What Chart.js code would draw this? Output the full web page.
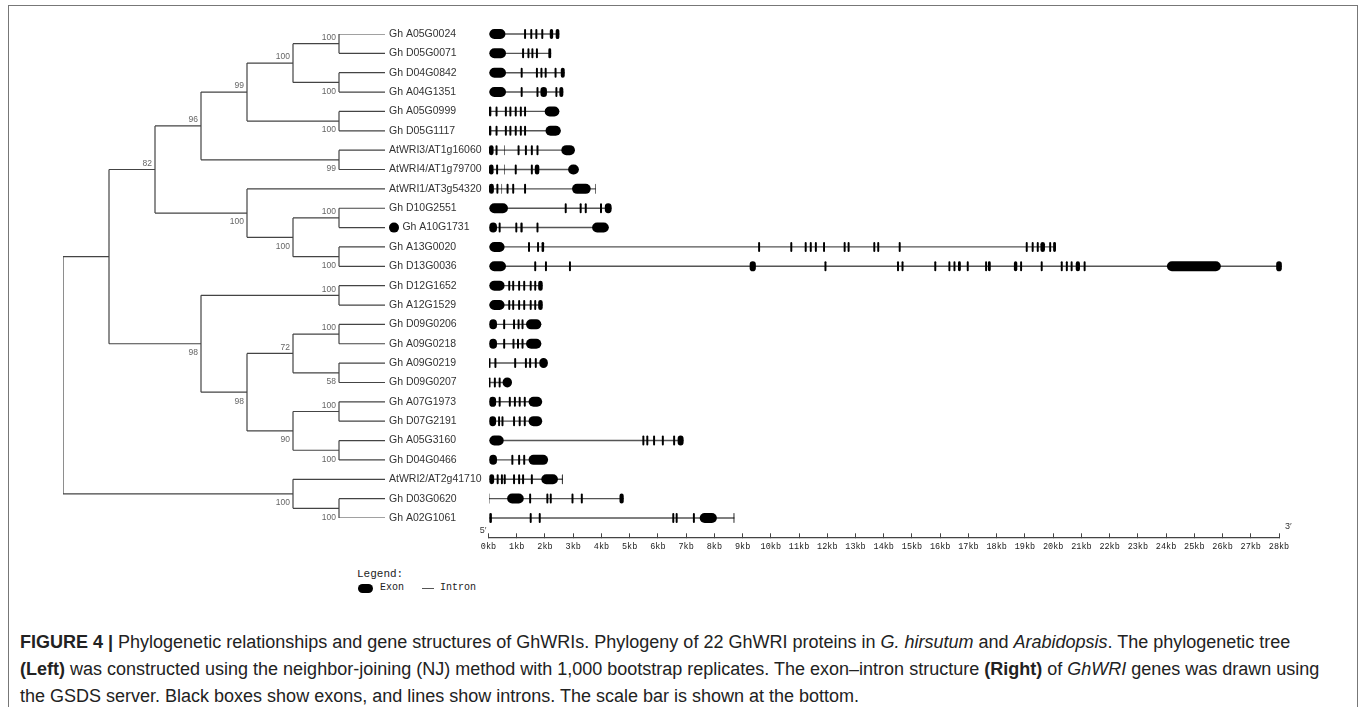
<!DOCTYPE html>
<html>
<head>
<meta charset="utf-8">
<script src="https://cdn.jsdelivr.net/npm/chart.js@4.4.0/dist/chart.umd.min.js"></script>
<style>
  html, body { margin: 0; padding: 0; background: #fff; }
  body { width: 1360px; height: 707px; position: relative; overflow: hidden; font-family: "Liberation Sans", Arial, sans-serif; }
  #frame { position: absolute; left: 8px; top: 5px; width: 1350px; height: 760px; border: 1.5px solid #777; box-sizing: border-box; }
  #tree { position: absolute; left: 0; top: 0; }
  #genes { position: absolute; left: 430px; top: 0; }
  .mono { position: absolute; font-family: "Liberation Mono", monospace; color: #222; white-space: nowrap; }
  #caption { position: absolute; left: 20px; top: 629px; font-size: 18px; line-height: 27px; color: #222; white-space: nowrap; }
</style>
</head>
<body>
<div id="frame"></div>
<canvas id="tree" width="510" height="560"></canvas>
<canvas id="genes" width="900" height="560"></canvas>

<div class="mono" style="left:357px; top:568px; font-size:11px;">Legend:</div>
<div style="position:absolute; left:358px; top:584px; width:15px; height:9px; border-radius:5px; background:#000;"></div>
<div class="mono" style="left:380px; top:582px; font-size:10px;">Exon</div>
<div style="position:absolute; left:422px; top:588px; width:12px; height:1.3px; background:#555;"></div>
<div class="mono" style="left:440px; top:582px; font-size:10px;">Intron</div>

<div id="caption"><b>FIGURE 4 |</b> Phylogenetic relationships and gene structures of GhWRIs. Phylogeny of 22 GhWRI proteins in <i>G. hirsutum</i> and <i>Arabidopsis</i>. The phylogenetic tree<br><b>(Left)</b> was constructed using the neighbor-joining (NJ) method with 1,000 bootstrap replicates. The exon&ndash;intron structure <b>(Right)</b> of <i>GhWRI</i> genes was drawn using<br>the GSDS server. Black boxes show exons, and lines show introns. The scale bar is shown at the bottom.</div>

<script>
// leaf order, top to bottom
const leafNames = [
  "Gh A05G0024", "Gh D05G0071", "Gh D04G0842", "Gh A04G1351", "Gh A05G0999", "Gh D05G1117",
  "AtWRI3/AT1g16060", "AtWRI4/AT1g79700", "AtWRI1/AT3g54320", "Gh D10G2551", "Gh A10G1731",
  "Gh A13G0020", "Gh D13G0036", "Gh D12G1652", "Gh A12G1529", "Gh D09G0206", "Gh A09G0218",
  "Gh A09G0219", "Gh D09G0207", "Gh A07G1973", "Gh D07G2191", "Gh A05G3160", "Gh D04G0466",
  "AtWRI2/AT2g41710", "Gh D03G0620", "Gh A02G1061"
];
const markedLeaves = ["Gh A10G1731"];

// tree topology: n(child, child, bootstrap); numbers are leaf indices
function n(a, b, boot) { return { kids: [a, b], boot: boot }; }
const tree = n(
  n(
    n(
      n(n(n(n(0, 1, 100), n(2, 3, 100), 100), n(4, 5, 100), 99), n(6, 7, 99), 96),
      n(8, n(n(9, 10, 100), n(11, 12, 100), 100), 100),
      82),
    n(n(13, 14, 100),
      n(n(n(15, 16, 100), n(17, 18, 58), 72), n(n(19, 20, 100), n(21, 22, 100), 90), 98),
      98),
    null),
  n(23, n(24, 25, 100), 100),
  null);

// exons per gene in kb, same order as leafNames
const exons = [
  [[0.03,0.60],[1.26,1.33],[1.48,1.55],[1.66,1.73],[1.87,1.94],[2.17,2.29],[2.38,2.51]],
  [[0.03,0.62],[1.19,1.26],[1.38,1.45],[1.52,1.59],[1.68,1.75],[2.12,2.22]],
  [[0.03,0.62],[1.14,1.21],[1.68,1.75],[1.84,1.91],[1.99,2.06],[2.34,2.41],[2.56,2.70]],
  [[0.03,0.62],[1.14,1.21],[1.70,1.77],[1.84,2.07],[2.37,2.44],[2.51,2.65]],
  [[0.00,0.10],[0.25,0.32],[0.58,0.65],[0.74,0.81],[0.93,1.00],[1.11,1.18],[1.26,1.33],[1.99,2.51]],
  [[0.00,0.10],[0.25,0.32],[0.58,0.65],[0.74,0.81],[0.93,1.00],[1.11,1.18],[1.26,1.33],[2.02,2.56]],
  [[0.00,0.18],[0.25,0.32],[0.56,0.58],[1.03,1.10],[1.29,1.36],[1.50,1.57],[1.70,1.77],[2.58,3.06]],
  [[0.00,0.18],[0.27,0.34],[0.56,0.58],[0.93,1.00],[1.50,1.57],[1.64,1.80],[2.82,3.20]],
  [[0.00,0.19],[0.28,0.35],[0.46,0.48],[0.64,0.71],[0.84,0.91],[1.26,1.33],[2.96,3.62],[3.78,3.80]],
  [[0.03,0.69],[2.70,2.77],[3.23,3.30],[3.41,3.48],[3.95,4.02],[4.12,4.36]],
  [[0.03,0.30],[0.36,0.43],[0.95,1.02],[1.13,1.21],[1.70,1.77],[3.67,4.26]],
  [[0.03,0.57],[1.40,1.47],[1.72,1.79],[1.88,1.97],[9.55,9.62],[10.69,10.76],[11.20,11.27],[11.38,11.45],
   [11.56,11.63],[11.85,11.92],[12.58,12.65],[12.72,12.79],[13.63,13.70],[13.77,13.84],[14.53,14.60],
   [19.03,19.10],[19.24,19.31],[19.42,19.49],[19.55,19.71],[19.86,19.93],[20.00,20.10]],
  [[0.03,0.62],[1.62,1.69],[2.00,2.07],[2.85,2.92],[9.25,9.47],[11.90,11.97],[14.47,14.54],[14.63,14.70],
   [15.79,15.86],[16.29,16.36],[16.47,16.54],[16.63,16.73],[16.94,17.01],[17.59,17.66],[17.69,17.79],
   [18.61,18.73],[18.83,18.90],[19.56,19.63],[20.27,20.34],[20.45,20.52],[20.62,20.69],[20.80,20.95],
   [21.08,21.15],[24.03,25.94],[27.90,28.10]],
  [[0.03,0.57],[0.70,0.77],[0.84,0.91],[1.05,1.12],[1.23,1.30],[1.46,1.53],[1.62,1.69],[1.76,1.92]],
  [[0.03,0.57],[0.70,0.77],[0.84,0.91],[1.05,1.12],[1.23,1.30],[1.46,1.53],[1.62,1.69],[1.76,1.92]],
  [[0.03,0.30],[0.52,0.59],[0.87,0.94],[1.03,1.10],[1.17,1.24],[1.33,1.87]],
  [[0.03,0.30],[0.52,0.59],[0.85,0.92],[1.01,1.08],[1.17,1.24],[1.33,1.87]],
  [[0.00,0.07],[0.21,0.28],[0.91,0.98],[1.29,1.36],[1.44,1.51],[1.64,1.71],[1.80,2.10]],
  [[0.00,0.07],[0.19,0.26],[0.36,0.43],[0.50,0.83]],
  [[0.03,0.27],[0.36,0.43],[0.72,0.79],[0.90,0.97],[1.07,1.14],[1.25,1.32],[1.42,1.90]],
  [[0.03,0.27],[0.34,0.41],[0.46,0.53],[0.87,0.94],[1.07,1.14],[1.25,1.32],[1.42,1.90]],
  [[0.03,0.54],[5.45,5.52],[5.59,5.66],[5.83,5.90],[6.14,6.21],[6.54,6.61],[6.70,6.91]],
  [[0.03,0.30],[0.81,0.88],[1.05,1.12],[1.23,1.30],[1.42,2.11]],
  [[0.03,0.20],[0.29,0.36],[0.44,0.51],[0.54,0.61],[0.87,0.94],[1.05,1.12],[1.19,1.26],[1.50,1.57],[1.87,2.46],[2.60,2.63]],
  [[0.00,0.03],[0.66,1.25],[1.44,1.51],[2.05,2.12],[2.17,2.24],[2.94,3.01],[3.27,3.34],[4.64,4.79]],
  [[0.03,0.12],[1.46,1.53],[1.78,1.85],[6.51,6.58],[6.63,6.70],[7.24,7.31],[7.48,8.09],[8.68,8.71]]
];
const axisMaxKb = 28;

// ---- tree layout (cladogram, leaves aligned) ----
const DEPTH = 7;
function place(node) {
  if (typeof node === "number") return { x: DEPTH, y: node, h: 0, leaf: true };
  const kids = node.kids.map(place);
  const h = Math.max(kids[0].h, kids[1].h) + 1;
  return { x: DEPTH - h, y: (kids[0].y + kids[1].y) / 2, h: h, kids: kids, boot: node.boot };
}
const treeSegs = [];
const bootLabels = [];
function collect(node, side) {
  if (node.leaf) return;
  treeSegs.push({ x: node.x, y: node.kids[0].y }, { x: node.x, y: node.kids[1].y }, { x: node.x, y: null });
  node.kids.forEach(function (k, i) {
    treeSegs.push({ x: node.x, y: k.y }, { x: k.x, y: k.y }, { x: k.x, y: null });
    collect(k, i);
  });
  if (node.boot != null) bootLabels.push({ x: node.x, y: node.y, text: String(node.boot), side: side });
}
collect(place(tree), 0);

const treeExtras = {
  id: "treeExtras",
  afterDatasetsDraw(chart) {
    const ctx = chart.ctx, xs = chart.scales.x, ys = chart.scales.y;
    ctx.save();
    ctx.font = "8.5px 'Liberation Sans'";
    ctx.fillStyle = "#666";
    ctx.textAlign = "right";
    ctx.textBaseline = "middle";
    bootLabels.forEach(function (b) {
      const px = xs.getPixelForValue(b.x) - 3;
      const py = ys.getPixelForValue(b.y) + (b.side === 0 ? -6 : 9);
      ctx.fillText(b.text, px, py);
    });
    ctx.fillStyle = "#000";
    markedLeaves.forEach(function (name) {
      const i = leafNames.indexOf(name);
      ctx.beginPath();
      ctx.arc(chart.chartArea.right + 9, ys.getPixelForValue(i), 5, 0, Math.PI * 2);
      ctx.fill();
    });
    ctx.restore();
  }
};

new Chart(document.getElementById("tree"), {
  type: "line",
  data: {
    datasets: [{
      data: treeSegs,
      borderColor: "#444",
      borderWidth: 1.2,
      pointRadius: 0,
      spanGaps: false,
      tension: 0,
      fill: false
    }]
  },
  options: {
    responsive: false,
    animation: false,
    events: [],
    layout: { padding: { left: 63, top: 34, bottom: 42, right: 0 } },
    plugins: { legend: { display: false }, tooltip: { enabled: false } },
    scales: {
      x: { type: "linear", min: 0, max: DEPTH, display: false },
      y: {
        type: "linear", reverse: true, min: 0, max: leafNames.length - 1, position: "right",
        grid: { display: false, drawTicks: false }, border: { display: false },
        ticks: {
          stepSize: 1, autoSkip: false, padding: 4, color: "#333",
          font: { family: "Liberation Sans", size: 10.5 },
          callback: function (v) {
            const name = leafNames[v];
            return markedLeaves.indexOf(name) >= 0 ? "\u2003 " + name : name;
          }
        },
        afterFit: function (s) { s.width = 125; }
      }
    }
  },
  plugins: [treeExtras]
});

// ---- gene structures ----
const intronData = exons.map(function (ex, i) {
  return { y: i, x: [ex[0][0], ex[ex.length - 1][1]] };
});
const exonData = [];
exons.forEach(function (ex, i) {
  ex.forEach(function (e) { exonData.push({ y: i, x: e }); });
});

const geneExtras = {
  id: "geneExtras",
  afterDraw(chart) {
    const ctx = chart.ctx, a = chart.chartArea;
    ctx.save();
    ctx.font = "9px 'Liberation Sans'";
    ctx.fillStyle = "#333";
    ctx.textBaseline = "middle";
    ctx.textAlign = "right";
    ctx.fillText("5\u2032", a.left - 2, a.bottom - 7);
    ctx.textAlign = "left";
    ctx.fillText("3\u2032", a.right + 6, a.bottom - 11);
    ctx.restore();
  }
};

new Chart(document.getElementById("genes"), {
  type: "bar",
  data: {
    datasets: [
      { label: "Intron", data: intronData, backgroundColor: "#555", maxBarThickness: 1.4, grouped: false, order: 2, clip: 8 },
      { label: "Exon", data: exonData, backgroundColor: "#000", maxBarThickness: 10, borderRadius: 5,
        borderSkipped: false, grouped: false, order: 1, clip: 8 }
    ]
  },
  options: {
    indexAxis: "y",
    responsive: false,
    animation: false,
    events: [],
    layout: { padding: { left: 58.5, right: 51, top: 24.3, bottom: 2.7 } },
    plugins: { legend: { display: false }, tooltip: { enabled: false } },
    scales: {
      y: { type: "linear", reverse: true, min: -0.5, max: leafNames.length, offset: false, display: false },
      x: {
        type: "linear", min: 0, max: axisMaxKb, position: "bottom",
        grid: { display: true, drawOnChartArea: false, drawTicks: true, tickLength: -4, color: "#444", lineWidth: 1 },
        border: { display: true, color: "#444", width: 1.2 },
        ticks: {
          stepSize: 1, autoSkip: false, maxRotation: 0, minRotation: 0, padding: 8, color: "#222",
          font: { family: "Liberation Mono", size: 8.5 },
          callback: function (v) { return v + "kb"; }
        },
        afterFit: function (s) { s.height = 20; }
      }
    }
  },
  plugins: [geneExtras]
});
</script>
</body>
</html>
